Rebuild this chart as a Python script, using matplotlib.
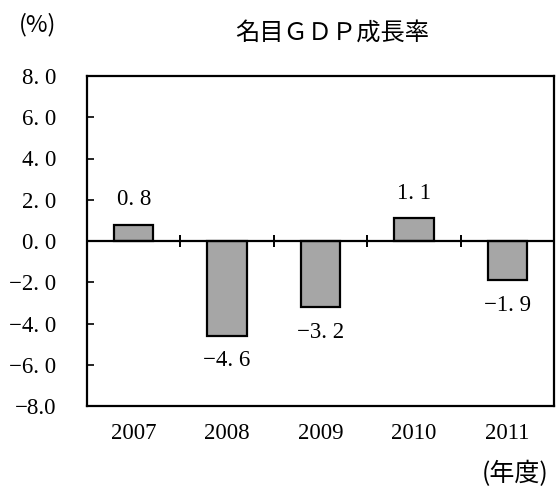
import matplotlib
matplotlib.use("Agg")
import matplotlib.pyplot as plt

years = ["2007", "2008", "2009", "2010", "2011"]
growth = [0.8, -4.6, -3.2, 1.1, -1.9]
value_labels = ["0. 8", "−4. 6", "−3. 2", "1. 1", "−1. 9"]
yticks = [8, 6, 4, 2, 0, -2, -4, -6, -8]
ytick_labels = ["8. 0", "6. 0", "4. 0", "2. 0", "0. 0", "−2. 0", "−4. 0", "−6. 0", "−8.0"]
title = "名目ＧＤＰ成長率"
unit_y = "(%)"
unit_x = "(年度)"

serif = ["Liberation Serif", "Noto Sans CJK JP"]
cjk = ["Noto Sans CJK JP", "DejaVu Sans"]

fig = plt.figure(figsize=(5.57, 4.87), dpi=100)
ax = fig.add_axes([87/557, 81/487, 467/557, 330/487])

x = list(range(len(years)))
ax.bar(x, growth, width=0.42, color="#a6a6a6", edgecolor="black", linewidth=1.6, zorder=2)
ax.axhline(0, color="black", linewidth=1.6, zorder=3)

# separator ticks on zero line between categories
mids = [i + 0.5 for i in x[:-1]]
ax.vlines(mids, -0.3, 0.3, color="black", linewidth=1.4, zorder=3)

for xi, v, lab in zip(x, growth, value_labels):
    off = 18 if v >= 0 else -18
    ax.annotate(lab, (xi, v), xytext=(0, off), textcoords="offset points",
                ha="center", va="center", fontsize=16.5, family=serif)

ax.set_xlim(-0.5, len(years) - 0.5)
ax.set_ylim(-8, 8)
ax.set_yticks(yticks)
ax.set_yticklabels(ytick_labels, family=serif, fontsize=16.5)
ax.set_xticks(x)
ax.set_xticklabels(years, family=serif, fontsize=16.5)
ax.tick_params(axis="y", direction="in", length=5, width=1.2, pad=22, left=True, right=False)
ax.tick_params(axis="x", length=0, pad=12)
for s in ax.spines.values():
    s.set_linewidth(1.6)

fig.text(332/557, 1 - 33/487, title, ha="center", va="center", fontsize=17.5, family=cjk)
fig.text(38/557, 1 - 25/487, unit_y, ha="center", va="center", fontsize=17, family=cjk)
fig.text(515/557, 1 - 474/487, unit_x, ha="center", va="center", fontsize=18, family=cjk)

fig.savefig("out.png", dpi=100)
